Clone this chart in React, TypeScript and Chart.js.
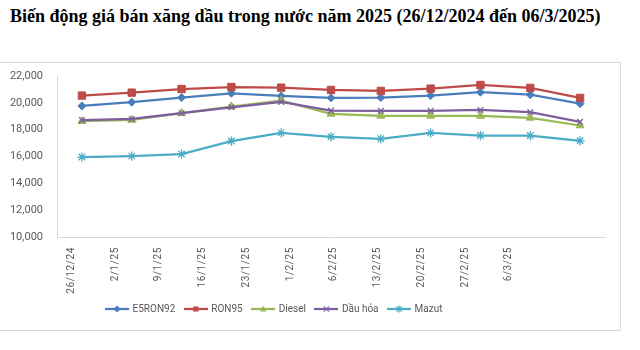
import React, { useEffect, useRef } from "react";
import { Chart, registerables } from "chart.js";

Chart.register(...registerables);

const titleText = "Biến động giá bán xăng dầu trong nước năm 2025 (26/12/2024 đến 06/3/2025)";

const categories = ["26/12/24", "2/1/25", "9/1/25", "16/1/25", "23/1/25", "1/2/25", "6/2/25", "13/2/25", "20/2/25", "27/2/25", "6/3/25"];

const seriesNames = ["E5RON92", "RON95", "Diesel", "Dầu hỏa", "Mazut"];
const e5ron92 = [19770, 20050, 20390, 20710, 20510, 20370, 20390, 20540, 20790, 20610, 19940];
const ron95 = [20540, 20760, 21030, 21180, 21130, 20960, 20890, 21060, 21330, 21110, 20370];
const diesel = [18630, 18730, 19230, 19720, 20160, 19180, 19030, 19030, 19030, 18880, 18310];
const dauHoa = [18710, 18800, 19230, 19670, 20070, 19420, 19400, 19400, 19470, 19300, 18580];
const mazut = [15960, 16030, 16180, 17150, 17760, 17470, 17320, 17760, 17560, 17560, 17170];

const yMin = 10000;
const yMax = 22000;
const yStep = 2000;

const seriesValues = [e5ron92, ron95, diesel, dauHoa, mazut];
const seriesColors = ["#4A7EBB", "#BE4B48", "#98B954", "#7D5FA0", "#4BACC6"];
const seriesStyles = ["rectRot", "rect", "triangle", "crossRot", "star"];
const seriesRadius = [4, 5.2, 4.6, 4, 4.6];

const textColor = "#595959";
const axisColor = "#D9D9D9";

function drawMarker(ctx: CanvasRenderingContext2D, style: string, x: number, y: number, r: number, color: string) {
  ctx.save();
  ctx.fillStyle = color;
  ctx.strokeStyle = color;
  ctx.lineWidth = 1.2;
  ctx.beginPath();
  if (style === "rectRot") {
    ctx.moveTo(x, y - r);
    ctx.lineTo(x + r, y);
    ctx.lineTo(x, y + r);
    ctx.lineTo(x - r, y);
    ctx.closePath();
    ctx.fill();
  } else if (style === "rect") {
    const s = r * 0.72;
    ctx.rect(x - s, y - s, 2 * s, 2 * s);
    ctx.fill();
  } else if (style === "triangle") {
    ctx.moveTo(x, y - r);
    ctx.lineTo(x + r * 0.9, y + r * 0.7);
    ctx.lineTo(x - r * 0.9, y + r * 0.7);
    ctx.closePath();
    ctx.fill();
  } else if (style === "crossRot") {
    const d = r * 0.75;
    ctx.moveTo(x - d, y - d);
    ctx.lineTo(x + d, y + d);
    ctx.moveTo(x + d, y - d);
    ctx.lineTo(x - d, y + d);
    ctx.stroke();
  } else if (style === "star") {
    const d = r * 0.75;
    ctx.moveTo(x - d, y - d);
    ctx.lineTo(x + d, y + d);
    ctx.moveTo(x + d, y - d);
    ctx.lineTo(x - d, y + d);
    ctx.moveTo(x, y - r);
    ctx.lineTo(x, y + r);
    ctx.stroke();
  }
  ctx.restore();
}

function makeLegendIcon(i: number): HTMLCanvasElement {
  const c = document.createElement("canvas");
  c.width = 24;
  c.height = 12;
  const ctx = c.getContext("2d")!;
  ctx.strokeStyle = seriesColors[i];
  ctx.lineWidth = 2.25;
  ctx.beginPath();
  ctx.moveTo(0, 6);
  ctx.lineTo(24, 6);
  ctx.stroke();
  drawMarker(ctx, seriesStyles[i], 12, 6, 3.6, seriesColors[i]);
  return c;
}

const letterSpacingPlugin = {
  id: "xLabelSpacing",
  beforeDraw(chart: any) {
    const s: any = chart.scales.x2;
    if (s && !s.__patched) {
      const orig = s.drawLabels;
      s.drawLabels = function (area: any) {
        const ctx = this.ctx;
        ctx.save();
        ctx.letterSpacing = "0.6px";
        orig.call(this, area);
        ctx.restore();
      };
      s.__patched = true;
    }
  },
};

export default function App() {
  const canvasRef = useRef<HTMLCanvasElement | null>(null);

  useEffect(() => {
    const canvas = canvasRef.current;
    if (!canvas) return;
    const icons = seriesNames.map((_, i) => makeLegendIcon(i));

    const datasets = seriesNames.map((name, i) => ({
      label: name,
      data: seriesValues[i],
      borderColor: seriesColors[i],
      backgroundColor: seriesColors[i],
      borderWidth: 2.25,
      pointStyle: seriesStyles[i] as any,
      pointRadius: seriesRadius[i],
      pointHoverRadius: seriesRadius[i],
      pointBackgroundColor: seriesColors[i],
      pointBorderColor: seriesColors[i],
      pointBorderWidth: i >= 3 ? 1.3 : 1,
      tension: 0,
      fill: false,
      order: seriesNames.length - i,
      xAxisID: "x",
      yAxisID: "y",
    }));

    const chart = new Chart(canvas, {
      type: "line",
      data: { labels: categories, datasets },
      plugins: [letterSpacingPlugin],
      options: {
        animation: false,
        responsive: false,
        maintainAspectRatio: false,
        layout: { padding: { top: 13, left: 14, right: 15, bottom: 6 } },
        plugins: {
          title: { display: false },
          tooltip: { enabled: false },
          legend: {
            display: true,
            position: "bottom",
            align: "center",
            labels: {
              usePointStyle: true,
              pointStyleWidth: 21,
              padding: 10,
              color: textColor,
              font: { family: "Roboto", size: 10 },
              generateLabels: () =>
                seriesNames.map((name, i) => ({
                  text: name,
                  fillStyle: seriesColors[i],
                  strokeStyle: seriesColors[i],
                  lineWidth: 0,
                  pointStyle: icons[i] as any,
                  hidden: false,
                  datasetIndex: i,
                  fontColor: textColor,
                })),
            },
          },
        },
        scales: {
          x: {
            type: "category",
            position: "bottom",
            offset: true,
            weight: 0,
            grid: { display: true, drawOnChartArea: false, drawTicks: false },
            border: { display: true, color: axisColor, width: 1 },
            ticks: { display: false },
            afterFit: (scale: any) => {
              scale.height = 0;
            },
          },
          x2: {
            type: "linear",
            position: "bottom",
            weight: 1,
            min: -0.331,
            max: 12.195,
            grid: { display: false, drawTicks: false },
            border: { display: false },
            afterBuildTicks: (scale: any) => {
              scale.ticks = categories.map((_, i) => ({ value: i }));
            },
            ticks: {
              autoSkip: false,
              minRotation: 90,
              maxRotation: 90,
              padding: 10,
              color: textColor,
              font: { family: "Roboto", size: 10 },
              callback: (value: any) => categories[Math.round(Number(value))] ?? "",
            },
            afterFit: (scale: any) => {
              scale.height = 57;
            },
          },
          y: {
            type: "linear",
            position: "left",
            min: yMin,
            max: yMax,
            grid: {
              display: true,
              drawOnChartArea: false,
              drawTicks: true,
              tickLength: 14,
              color: "rgba(0,0,0,0)",
            },
            border: { display: true, color: axisColor, width: 1 },
            ticks: {
              stepSize: yStep,
              padding: 0,
              color: textColor,
              font: { family: "Roboto", size: 11 },
              callback: (value: any) => Number(value).toLocaleString("en-US"),
            },
            afterFit: (scale: any) => {
              scale.width = 113;
            },
          },
        },
      } as any,
    });

    return () => {
      chart.destroy();
    };
  }, []);

  return (
    <div style={{ position: "absolute", left: 0, top: 0, width: 640, height: 350, background: "#fff" }}>
      <div
        style={{
          position: "absolute",
          left: 10,
          top: 7,
          whiteSpace: "nowrap",
          fontFamily: "'Liberation Serif', 'Times New Roman', serif",
          fontWeight: "bold",
          fontSize: 18,
          lineHeight: "18px",
          color: "#000",
        }}
      >
        {titleText}
      </div>
      <div
        style={{
          position: "absolute",
          left: 0,
          top: 62,
          width: 621,
          height: 269,
          boxSizing: "border-box",
          borderTop: `1px solid ${axisColor}`,
          borderRight: `1px solid ${axisColor}`,
          borderBottom: `1px solid ${axisColor}`,
          overflow: "hidden",
        }}
      >
        <canvas
          ref={canvasRef}
          width={690}
          height={267}
          style={{ position: "absolute", left: -70, top: 0, width: 690, height: 267 }}
        />
      </div>
    </div>
  );
}
